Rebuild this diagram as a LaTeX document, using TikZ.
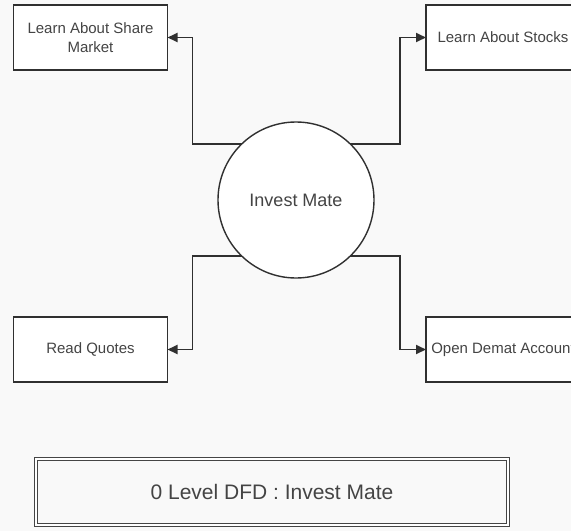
\documentclass[tikz,border=0pt]{standalone}
\usepackage{fontspec}
\setmainfont{Liberation Sans}
\usetikzlibrary{arrows.meta,calc}
\definecolor{bg}{HTML}{F9F9F9}
\definecolor{edge}{HTML}{303030}
\definecolor{txt}{HTML}{444444}
\tikzset{
  entity/.style={draw=edge, line width=1.5pt, fill=white, minimum width=154pt,
    minimum height=65pt, inner sep=0pt, outer sep=0pt, text=txt, align=center,
    font=\fontsize{15}{19}\selectfont},
  process/.style={draw=edge, line width=1.4pt, fill=white, circle, minimum size=156pt,
    inner sep=0pt, outer sep=0pt, text=txt, font=\fontsize{18}{22}\selectfont},
  flow/.style={draw=edge, line width=1.9pt, -{Triangle[length=10pt,width=9pt]}},
  titlebox/.style={draw=edge!90, double=white, double distance=1.6pt, line width=1pt,
    minimum width=472pt, minimum height=66pt, inner sep=0pt, text=txt,
    font=\fontsize{21}{25}\selectfont}
}
\begin{document}
\begin{tikzpicture}[x=1pt,y=-1pt]
  \useasboundingbox (0,0) rectangle (571,531);
  \clip (0,0) rectangle (571,531);
  \fill[bg] (0,0) rectangle (571,531);

  % central process
  \node[process] (circ) at (296,200) {Invest Mate};

  % external entities
  \node[entity] (lsm) at (90.5,37.5) {Learn About Share\\Market};
  \node[entity] (las) at (503,37.5) {Learn About Stocks};
  \node[entity] (rq)  at (90.5,349.5) {Read Quotes};
  \node[entity] (oda) at (503,349.5) {Open Demat Account};

  % data flows
  \draw[flow] (circ.134) -| ($(lsm.east)+(25,0)$) -- (lsm.east);
  \draw[flow] (circ.46)  -| ($(las.west)+(-26,0)$) -- (las.west);
  \draw[flow] (circ.226) -| ($(rq.east)+(25,0)$) -- (rq.east);
  \draw[flow] (circ.314) -| ($(oda.west)+(-26,0)$) -- (oda.west);

  % diagram caption
  \node[titlebox] (cap) at (272,492) {0 Level DFD : Invest Mate};
\end{tikzpicture}
\end{document}
